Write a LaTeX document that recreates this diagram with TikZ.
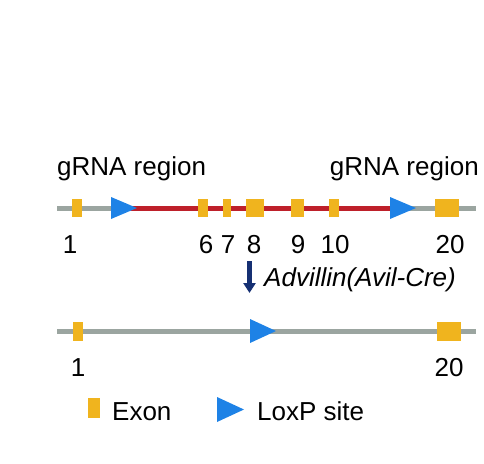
\documentclass[tikz,border=0pt]{standalone}
\usepackage{fontspec}
\setmainfont{Liberation Sans}
\usetikzlibrary{arrows.meta, positioning}
\definecolor{genegray}{RGB}{155,165,160}
\definecolor{floxred}{RGB}{190,32,42}
\definecolor{exonyellow}{RGB}{240,180,30}
\definecolor{loxpblue}{RGB}{30,130,230}
\definecolor{crenavy}{RGB}{22,48,115}

\begin{document}
\begin{tikzpicture}[
    x=1pt, y=-1pt,
    lbl/.style={font=\fontsize{26}{30}\selectfont, inner sep=0pt},
    exon/.style={fill=exonyellow, inner sep=0pt, minimum height=18pt},
    loxp/.style={fill=loxpblue},
    gene/.style={draw=genegray, line width=5pt},
    floxed/.style={draw=floxred, line width=5pt},
]
    \useasboundingbox (0,0) rectangle (484,463);

    % floxed allele
    \coordinate (wtL) at (57,208);
    \coordinate (wtR) at (476,208);
    \coordinate (lox1) at (111,208);
    \coordinate (lox2) at (390,208);
    \draw[gene] (wtL) -- (lox1);
    \draw[floxed] (lox1) -- (lox2);
    \draw[gene] (lox2) -- (wtR);
    \node[exon, minimum width=10pt] (e1) at (77,208) {};
    \node[exon, minimum width=10pt] (e6) at (203,208) {};
    \node[exon, minimum width=8pt] (e7) at (227,208) {};
    \node[exon, minimum width=18pt] (e8) at (255,208) {};
    \node[exon, minimum width=13pt] (e9) at (297.5,208) {};
    \node[exon, minimum width=10pt] (e10) at (334,208) {};
    \node[exon, minimum width=24pt] (e20) at (447,208) {};
    \fill[loxp] (lox1) ++(0,-11) -- ++(26,11) -- ++(-26,11) -- cycle;
    \fill[loxp] (lox2) ++(0,-11) -- ++(26,11) -- ++(-26,11) -- cycle;

    \node[lbl, anchor=base west] (g1) at (57,175) {gRNA region};
    \node[lbl, anchor=base east] (g2) at (479,175) {gRNA region};
    \node[lbl, anchor=base] (n1) at (70,253) {1};
    \node[lbl, anchor=base] (n6) at (206,253) {6};
    \node[lbl, anchor=base] (n7) at (228,253) {7};
    \node[lbl, anchor=base] (n8) at (254,253) {8};
    \node[lbl, anchor=base] (n9) at (298,253) {9};
    \node[lbl, anchor=base] (n10) at (335,253) {10};
    \node[lbl, anchor=base] (n20) at (450,253) {20};

    % Cre recombination
    \coordinate (creTop) at (249.5,261);
    \coordinate (creBot) at (249.5,293);
    \draw[crenavy, line width=5.5pt, -{Triangle[length=10pt, width=12pt]}] (creTop) -- (creBot);
    \node[lbl, anchor=base west, font=\fontsize{26}{30}\selectfont\itshape] (cre) at (264,286) {Advillin(Avil-Cre)};

    % deleted allele
    \coordinate (koL) at (57,331);
    \coordinate (koR) at (476,331);
    \coordinate (lox3) at (250,331);
    \draw[gene] (koL) -- (koR);
    \node[exon, minimum width=10pt, minimum height=19pt] (k1) at (78,331) {};
    \node[exon, minimum width=24pt, minimum height=19pt] (k20) at (449,331) {};
    \fill[loxp] (lox3) ++(0,-12) -- ++(26,12) -- ++(-26,12) -- cycle;
    \node[lbl, anchor=base] (m1) at (78,376) {1};
    \node[lbl, anchor=base] (m20) at (449,376) {20};

    % legend
    \node[exon, minimum width=12pt, minimum height=20pt] (legExon) at (94,408) {};
    \node[lbl, anchor=base west] (txtExon) at (112,420) {Exon};
    \coordinate (legLox) at (217,409.5);
    \fill[loxp] (legLox) ++(0,-12.5) -- ++(27,12.5) -- ++(-27,12.5) -- cycle;
    \node[lbl, anchor=base west] (txtLox) at (257,420) {LoxP site};
\end{tikzpicture}
\end{document}
